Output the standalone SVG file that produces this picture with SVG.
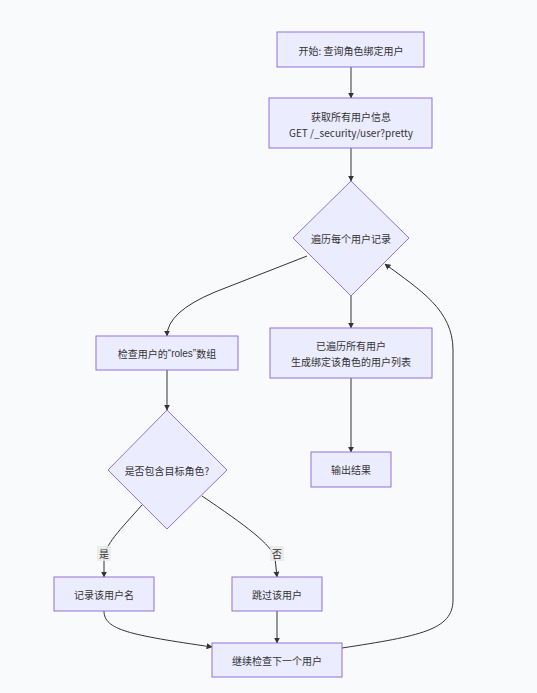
<svg xmlns="http://www.w3.org/2000/svg" width="537" height="693" viewBox="0 0 537 693">
<defs>
<marker id="arr" viewBox="0 0 10 10" refX="9" refY="5" markerWidth="6" markerHeight="6" orient="auto" markerUnits="userSpaceOnUse">
<path d="M0,0 L10,5 L0,10 z" fill="#333"/>
</marker>
<style>
.n rect, .n polygon { fill: #ECECFF; stroke: #9370DB; stroke-width: 1; }
text { font-family: "Noto Sans CJK SC", "Noto Sans", sans-serif; font-size: 10px; fill: #333; text-anchor: middle; dominant-baseline: central; }
.lat { font-family: "Liberation Sans", "Noto Sans", sans-serif; }
.e path { fill: none; stroke: #333; stroke-width: 1; marker-end: url(#arr); }
.lbl rect { fill: #e8e8e8; opacity: 0.8; }
</style>
</defs>
<rect width="537" height="693" fill="#F9FAFC"/>
<g id="connectors" class="e">
<path d="M351,67 L351,98"/>
<path d="M351,148 L351,181"/>
<path d="M307,256 L215,292 Q167,312 167,336"/>
<path d="M351,296 L351,328"/>
<path d="M167,370 L167,410"/>
<path d="M142,505 C120,530 104,545 104,560 L104,577"/>
<path d="M202,496 C245,525 272,545 275,558 L277,577"/>
<path d="M104,611 C104,630 130,635 212,647"/>
<path d="M277,611 L277,643"/>
<path d="M351,378 L351,452"/>
<path d="M342,648 C420,636 453,630 453,600 L453,350 C453,310 420,290 385,264"/>
</g>
<g id="label-yes" class="lbl"><rect x="97" y="546" width="14" height="15"/><text x="104" y="553.5">是</text></g>
<g id="label-no" class="lbl"><rect x="270" y="546" width="14" height="15"/><text x="277" y="553.5">否</text></g>
<g id="start" class="n"><rect x="277" y="32" width="147" height="35"/><text x="351" y="50">开始: 查询角色绑定用户</text></g>
<g id="fetch" class="n"><rect x="269" y="98" width="163" height="50"/><text x="351" y="116">获取所有用户信息</text><text x="351" y="132">GET /_security/user?pretty</text></g>
<g id="loop" class="n"><polygon points="351,181 409,238 351,296 293,238"/><text x="351" y="238">遍历每个用户记录</text></g>
<g id="check" class="n"><rect x="96" y="336" width="142" height="34"/><text x="167" y="353">检查用户的<tspan class="lat">“roles”</tspan>数组</text></g>
<g id="done" class="n"><rect x="270" y="328" width="162" height="50"/><text x="351" y="345">已遍历所有用户</text><text x="351" y="361">生成绑定该角色的用户列表</text></g>
<g id="has" class="n"><polygon points="167,410 227,470 167,529 108,470"/><text x="167" y="470">是否包含目标角色?</text></g>
<g id="output" class="n"><rect x="311" y="452" width="80" height="35"/><text x="351" y="469.5">输出结果</text></g>
<g id="record" class="n"><rect x="54" y="577" width="100" height="34"/><text x="104" y="594">记录该用户名</text></g>
<g id="skip" class="n"><rect x="232" y="577" width="90" height="34"/><text x="277" y="594">跳过该用户</text></g>
<g id="next" class="n"><rect x="212" y="643" width="130" height="34"/><text x="277" y="660">继续检查下一个用户</text></g>
</svg>
